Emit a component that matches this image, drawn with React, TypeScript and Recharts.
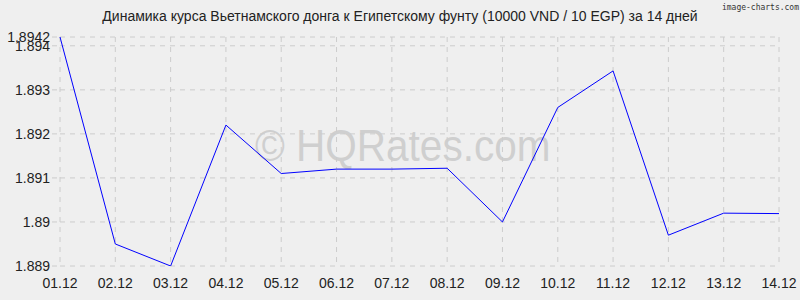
import React from "react";
import { LineChart, Line, XAxis, YAxis, CartesianGrid } from "recharts";

const days = ["01.12", "02.12", "03.12", "04.12", "05.12", "06.12", "07.12", "08.12", "09.12", "10.12", "11.12", "12.12", "13.12", "14.12"];
const rates = [1.8942, 1.8895, 1.889, 1.8922, 1.8911, 1.8912, 1.8912, 1.89122, 1.89, 1.8926, 1.89343, 1.8897, 1.8902, 1.89019];
const yTicks = [1.889, 1.89, 1.891, 1.892, 1.893, 1.894, 1.8942];

const data = days.map((d, i) => ({ day: d, rate: rates[i] }));

const font = "'Liberation Sans', Arial, sans-serif";

export default function App() {
  return (
    <div style={{ position: "absolute", left: 0, top: 0, width: 800, height: 300, background: "#efefef", fontFamily: font }}>
      <div style={{ position: "absolute", top: 8, left: 0, width: 800, textAlign: "center", fontSize: 14, color: "#222" }}>
        Динамика курса Вьетнамского донга к Египетскому фунту (10000 VND / 10 EGP) за 14 дней
      </div>
      <div style={{ position: "absolute", top: 3, right: 1, fontSize: 8, color: "#333", fontFamily: "'DejaVu Sans Mono', monospace" }}>
        image-charts.com
      </div>
      <div
        style={{
          position: "absolute",
          top: 120,
          left: 255,
          fontSize: 45,
          color: "#cfcfcf",
          whiteSpace: "nowrap",
          transform: "scaleX(0.9)",
          transformOrigin: "left top",
        }}
      >
        © HQRates.com
      </div>
      <LineChart width={800} height={300} data={data} margin={{ top: 37, right: 21, bottom: 4, left: 0 }}>
        <CartesianGrid stroke="#cccccc" strokeDasharray="5 5" />
        <XAxis
          dataKey="day"
          axisLine={false}
          tickLine={false}
          interval={0}
          height={30}
          tick={{ fontSize: 14, fill: "#222", fontFamily: font }}
          tickMargin={6}
        />
        <YAxis
          type="number"
          domain={[1.889, 1.8942]}
          ticks={yTicks}
          interval={0}
          allowDataOverflow
          width={60}
          axisLine={false}
          tickLine={{ stroke: "#cccccc", strokeDasharray: "5 5" }}
          tickSize={8}
          tickFormatter={(v) => String(v)}
          tick={{ fontSize: 14, fill: "#222", fontFamily: font }}
        />
        <Line type="linear" dataKey="rate" stroke="#0000ff" strokeWidth={1} dot={false} isAnimationActive={false} />
      </LineChart>
    </div>
  );
}
